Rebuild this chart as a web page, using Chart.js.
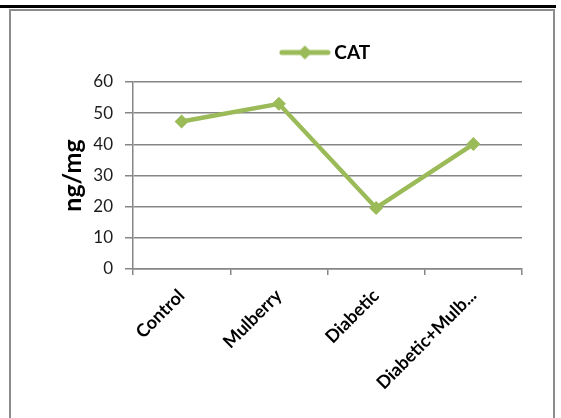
<!DOCTYPE html>
<html>
<head>
<meta charset="utf-8">
<script src="https://cdn.jsdelivr.net/npm/chart.js@4"></script>
<style>
  html, body { margin: 0; padding: 0; background: #fff; }
  #wrap { position: relative; width: 561px; height: 418px; overflow: hidden; }
  #rule { position: absolute; left: 0; top: 5px; width: 556px; height: 3px; background: #000; }
  #frame { position: absolute; left: 9px; top: 9px; width: 542px; height: 430px; border: 2px solid #8c8c8c; }
  #cv { position: absolute; left: 0; top: 0; }
</style>
</head>
<body>
<div id="wrap">
  <div id="rule"></div>
  <div id="frame"></div>
  <canvas id="cv" width="561" height="418"></canvas>
</div>
<script>
// chart data
const categories = ['Control', 'Mulberry', 'Diabetic', 'Diabetic+Mulb...'];
const catValues = [47.3, 53, 19.6, 40.1];
const seriesName = 'CAT';
const yTicks = [0, 10, 20, 30, 40, 50, 60];

const GREEN = '#9bbb59';
const GRID = '#868686';
const FONT = 'Lato, "Open Sans", sans-serif';

// legend swatch: line with a diamond on it
function legendSwatch() {
  const c = document.createElement('canvas');
  c.width = 52; c.height = 16;
  const g = c.getContext('2d');
  g.strokeStyle = GREEN; g.lineWidth = 5; g.lineCap = 'round';
  g.beginPath(); g.moveTo(3, 8); g.lineTo(49, 8); g.stroke();
  g.fillStyle = GREEN;
  g.beginPath(); g.moveTo(26, 1); g.lineTo(33, 8); g.lineTo(26, 15); g.lineTo(19, 8); g.closePath(); g.fill();
  return c;
}
const swatch = legendSwatch();

// extra space under the legend
const legendGap = {
  id: 'legendGap',
  afterInit(chart) {
    const fit = chart.legend.fit;
    chart.legend.fit = function () { fit.call(this); this.height += 10; };
  }
};

const ctx = document.getElementById('cv').getContext('2d');
new Chart(ctx, {
  type: 'line',
  data: {
    labels: categories,
    datasets: [{
      label: seriesName,
      data: catValues,
      borderColor: GREEN,
      backgroundColor: GREEN,
      borderWidth: 4.5,
      pointStyle: 'rectRot',
      pointRadius: 7,
      pointHoverRadius: 7,
      pointBorderWidth: 0,
      tension: 0,
      fill: false
    }]
  },
  plugins: [legendGap],
  options: {
    responsive: false,
    animation: false,
    layout: { padding: { top: 21, right: 39, bottom: 0, left: 50 } },
    plugins: {
      tooltip: { enabled: false },
      legend: {
        position: 'top',
        fullSize: false,
        labels: {
          usePointStyle: true,
          pointStyleWidth: 40,
          color: '#000',
          font: { family: FONT, size: 19, weight: 'bold' },
          padding: 22,
          generateLabels: chart => chart.data.datasets.map((ds, i) => ({
            text: ds.label, pointStyle: swatch, fillStyle: GREEN, strokeStyle: GREEN,
            lineWidth: 0, hidden: false, datasetIndex: i, fontColor: '#000'
          }))
        }
      }
    },
    scales: {
      x: {
        offset: true,
        grid: { offset: true, drawOnChartArea: false, drawTicks: true, tickLength: 6, color: GRID, lineWidth: 1.5 },
        border: { color: GRID, width: 1.5 },
        ticks: {
          minRotation: 45, maxRotation: 45, padding: 10,
          color: '#000',
          font: { family: FONT, size: 18, weight: 'bold' }
        },
        afterFit: s => { s.height = 149; }
      },
      y: {
        min: 0, max: 60,
        afterBuildTicks: s => { s.ticks = yTicks.map(v => ({ value: v })); },
        grid: { color: GRID, lineWidth: 1.5, tickLength: 8 },
        border: { color: GRID, width: 1.5 },
        ticks: {
          padding: 12,
          color: '#1c1c1c',
          font: { family: FONT, size: 17 }
        },
        title: {
          display: true, text: 'ng/mg', color: '#000',
          font: { family: FONT, size: 25, weight: 'bold' },
          padding: { top: 8, bottom: 0 }
        },
        afterFit: s => { s.width = 83; }
      }
    }
  }
});
</script>
</body>
</html>
